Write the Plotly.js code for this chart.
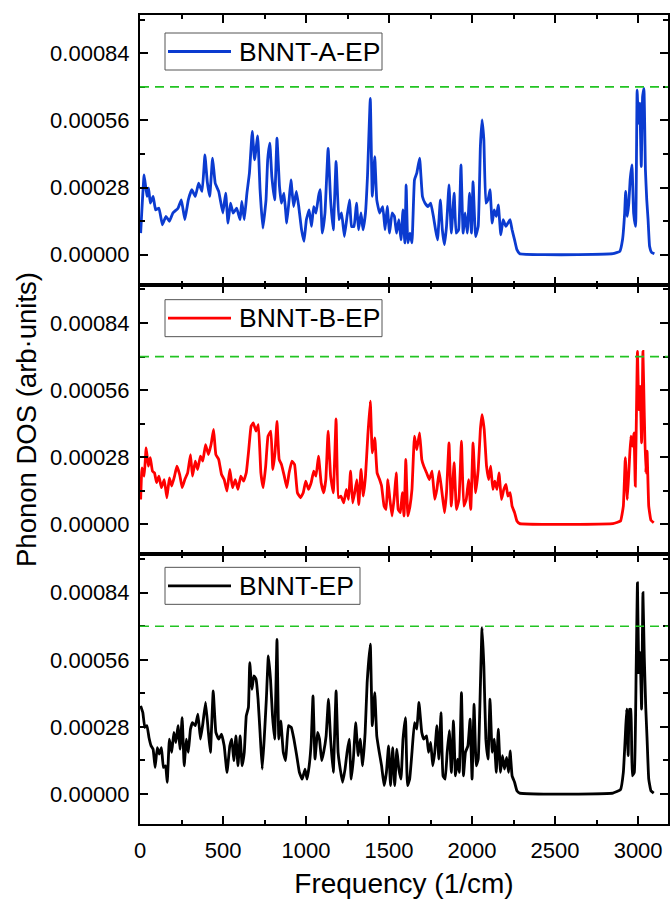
<!DOCTYPE html>
<html>
<head>
<meta charset="utf-8">
<script src="https://cdn.plot.ly/plotly-3.0.1.min.js"></script>
<style>
  html, body { margin: 0; padding: 0; background: #fff; }
  #chart { width: 671px; height: 900px; }
</style>
</head>
<body>
<div id="chart"></div>
<script>
// Phonon density of states of three BNNT/epoxy models (frequency in 1/cm)

const seriesNames = ['BNNT-A-EP', 'BNNT-B-EP', 'BNNT-EP'];
const seriesColors = ['#0b3bd0', '#ff0000', '#000000'];

const freqA = [4,25,42,52,62,79,94,114,135,156,
  177,198,229,249,270,291,312,333,353,374,
  391,405,420,437,453,474,499,516,530,545,
  561,582,603,613,628,644,659,676,690,709,
  723,740,759,769,782,794,811,825,840,852,
  867,884,898,909,925,942,956,973,988,1002,
  1019,1033,1046,1060,1075,1085,1098,1114,1133,1148,
  1164,1181,1198,1214,1231,1247,1262,1274,1289,1304,
  1316,1331,1343,1358,1370,1387,1399,1414,1426,1443,
  1462,1476,1489,1503,1518,1532,1545,1559,1572,1584,
  1595,1603,1613,1626,1638,1653,1667,1684,1701,1717,
  1734,1751,1767,1780,1792,1809,1821,1834,1846,1861,
  1875,1892,1904,1919,1933,1946,1958,1971,1985,1996,
  2006,2021,2037,2050,2060,2071,2083,2096,2108,2121,
  2133,2146,2158,2173,2187,2204,2216,2229,2241,2256,
  2270,2287,2432,2640,2848,2890,2906,2919,2925,2935,
  2944,2952,2963,2973,2985,2994,3002,3010,3019,3027,
  3035,3044,3052,3060,3069,3081,3098];

const dosA = [0.000090,0.000333,0.000243,0.000278,0.000215,0.000243,0.000187,0.000194,0.000125,0.000160,
  0.000139,0.000174,0.000194,0.000229,0.000146,0.000229,0.000271,0.000243,0.000298,0.000264,
  0.000416,0.000305,0.000243,0.000403,0.000298,0.000264,0.000174,0.000257,0.000132,0.000215,
  0.000174,0.000194,0.000146,0.000222,0.000146,0.000257,0.000340,0.000514,0.000396,0.000496,
  0.000271,0.000111,0.000229,0.000396,0.000465,0.000326,0.000229,0.000486,0.000285,0.000215,
  0.000257,0.000132,0.000229,0.000312,0.000201,0.000264,0.000201,0.000104,0.000056,0.000146,
  0.000187,0.000118,0.000201,0.000174,0.000243,0.000271,0.000090,0.000174,0.000444,0.000229,
  0.000104,0.000389,0.000146,0.000174,0.000076,0.000160,0.000229,0.000118,0.000118,0.000215,
  0.000104,0.000174,0.000104,0.000174,0.000326,0.000652,0.000243,0.000409,0.000229,0.000174,
  0.000201,0.000104,0.000201,0.000090,0.000174,0.000160,0.000090,0.000146,0.000062,0.000187,
  0.000049,0.000291,0.000049,0.000090,0.000049,0.000312,0.000340,0.000403,0.000243,0.000215,
  0.000201,0.000215,0.000160,0.000104,0.000062,0.000229,0.000104,0.000042,0.000118,0.000291,
  0.000090,0.000257,0.000090,0.000104,0.000375,0.000090,0.000174,0.000090,0.000257,0.000090,
  0.000305,0.000076,0.000118,0.000451,0.000562,0.000479,0.000215,0.000229,0.000271,0.000132,
  0.000187,0.000160,0.000208,0.000083,0.000146,0.000118,0.000132,0.000146,0.000104,0.000062,
  0.000021,0.000004,0.000000,0.000000,0.000004,0.000014,0.000062,0.000174,0.000264,0.000160,
  0.000215,0.000312,0.000375,0.000174,0.000118,0.000687,0.000548,0.000632,0.000368,0.000659,
  0.000694,0.000354,0.000229,0.000146,0.000035,0.000010,0.000004];

const freqB = [4,12,25,37,50,62,75,87,100,114,
  129,146,162,177,191,208,222,239,254,270,
  287,304,316,333,347,364,378,395,412,428,
  443,457,474,491,507,524,541,557,574,590,
  607,624,640,655,669,682,699,713,728,742,
  757,771,788,800,813,825,838,852,869,884,
  898,915,931,948,967,983,998,1015,1031,1046,
  1060,1075,1091,1106,1119,1133,1148,1164,1181,1195,
  1210,1227,1243,1256,1268,1281,1293,1306,1318,1331,
  1345,1358,1372,1387,1399,1414,1428,1443,1455,1470,
  1482,1493,1505,1518,1532,1543,1555,1568,1580,1590,
  1601,1613,1626,1638,1653,1667,1684,1697,1709,1726,
  1742,1759,1775,1788,1802,1819,1834,1846,1861,1875,
  1892,1906,1921,1936,1950,1965,1979,1992,2006,2021,
  2037,2050,2060,2073,2087,2100,2112,2125,2137,2150,
  2162,2177,2191,2204,2216,2229,2241,2256,2270,2287,
  2432,2640,2848,2894,2911,2923,2935,2946,2956,2965,
  2975,2983,2992,2996,3004,3012,3021,3029,3037,3046,
  3054,3064,3077,3094];

const dosB = [0.000104,0.000236,0.000201,0.000319,0.000243,0.000278,0.000222,0.000215,0.000174,0.000201,
  0.000153,0.000187,0.000111,0.000194,0.000160,0.000201,0.000243,0.000208,0.000153,0.000187,
  0.000215,0.000291,0.000201,0.000264,0.000229,0.000285,0.000264,0.000333,0.000291,0.000333,
  0.000396,0.000291,0.000271,0.000208,0.000187,0.000139,0.000229,0.000153,0.000187,0.000146,
  0.000201,0.000180,0.000215,0.000312,0.000409,0.000423,0.000389,0.000416,0.000215,0.000153,
  0.000243,0.000368,0.000389,0.000229,0.000298,0.000430,0.000271,0.000250,0.000201,0.000153,
  0.000215,0.000264,0.000250,0.000132,0.000111,0.000132,0.000180,0.000146,0.000174,0.000222,
  0.000201,0.000285,0.000174,0.000132,0.000187,0.000389,0.000201,0.000132,0.000440,0.000111,
  0.000118,0.000090,0.000146,0.000104,0.000222,0.000090,0.000132,0.000187,0.000083,0.000229,
  0.000118,0.000201,0.000368,0.000514,0.000298,0.000361,0.000215,0.000187,0.000160,0.000076,
  0.000062,0.000187,0.000104,0.000035,0.000118,0.000215,0.000062,0.000049,0.000132,0.000035,
  0.000271,0.000035,0.000076,0.000146,0.000368,0.000312,0.000382,0.000271,0.000243,0.000215,
  0.000187,0.000222,0.000104,0.000146,0.000222,0.000132,0.000049,0.000132,0.000340,0.000076,
  0.000257,0.000062,0.000104,0.000347,0.000076,0.000104,0.000187,0.000062,0.000340,0.000132,
  0.000229,0.000396,0.000458,0.000396,0.000243,0.000187,0.000243,0.000146,0.000180,0.000146,
  0.000215,0.000104,0.000146,0.000167,0.000118,0.000132,0.000076,0.000049,0.000014,0.000003,
  0.000000,0.000000,0.000003,0.000014,0.000076,0.000278,0.000104,0.000243,0.000368,0.000326,
  0.000382,0.000160,0.000562,0.000722,0.000479,0.000576,0.000340,0.000722,0.000465,0.000215,
  0.000305,0.000076,0.000018,0.000007];

const freqC = [4,17,29,42,54,67,79,91,104,116,
  129,141,154,164,177,191,204,216,229,241,
  254,266,279,291,304,316,333,349,364,378,
  395,412,424,441,457,474,491,507,524,541,
  553,565,578,590,603,615,628,640,653,661,
  674,686,699,711,723,736,748,761,773,786,
  798,811,825,836,848,863,877,894,911,927,
  944,960,977,994,1006,1019,1031,1042,1054,1069,
  1081,1094,1106,1121,1135,1148,1164,1181,1193,1206,
  1220,1235,1247,1260,1272,1285,1299,1314,1326,1341,
  1356,1368,1387,1399,1414,1426,1441,1455,1470,1484,
  1497,1509,1522,1534,1547,1559,1572,1584,1599,1611,
  1624,1638,1653,1667,1680,1697,1709,1726,1738,1751,
  1763,1775,1788,1800,1813,1825,1838,1850,1863,1875,
  1888,1900,1913,1923,1936,1948,1960,1975,1988,2000,
  2012,2025,2037,2050,2060,2071,2083,2096,2108,2121,
  2133,2146,2158,2171,2183,2195,2208,2220,2229,2241,
  2256,2270,2287,2432,2640,2848,2894,2911,2923,2931,
  2940,2948,2956,2965,2977,2988,2996,3004,3012,3021,
  3029,3037,3046,3054,3064,3077,3094];

const dosC = [0.000368,0.000340,0.000278,0.000285,0.000236,0.000201,0.000187,0.000111,0.000194,0.000167,
  0.000194,0.000111,0.000118,0.000049,0.000229,0.000174,0.000257,0.000215,0.000285,0.000187,
  0.000319,0.000118,0.000229,0.000174,0.000271,0.000298,0.000285,0.000333,0.000229,0.000291,
  0.000382,0.000257,0.000174,0.000430,0.000257,0.000229,0.000250,0.000201,0.000090,0.000201,
  0.000229,0.000139,0.000243,0.000118,0.000243,0.000118,0.000174,0.000326,0.000361,0.000548,
  0.000437,0.000493,0.000479,0.000396,0.000257,0.000104,0.000229,0.000396,0.000576,0.000479,
  0.000326,0.000229,0.000645,0.000229,0.000305,0.000174,0.000139,0.000285,0.000278,0.000229,
  0.000160,0.000090,0.000062,0.000104,0.000062,0.000118,0.000215,0.000409,0.000146,0.000257,
  0.000229,0.000139,0.000174,0.000243,0.000396,0.000229,0.000090,0.000430,0.000174,0.000104,
  0.000049,0.000104,0.000174,0.000229,0.000062,0.000146,0.000298,0.000160,0.000229,0.000118,
  0.000257,0.000465,0.000625,0.000285,0.000423,0.000243,0.000174,0.000118,0.000035,0.000090,
  0.000201,0.000035,0.000194,0.000035,0.000187,0.000104,0.000062,0.000229,0.000319,0.000035,
  0.000062,0.000174,0.000298,0.000271,0.000382,0.000257,0.000229,0.000243,0.000174,0.000215,
  0.000118,0.000174,0.000285,0.000146,0.000340,0.000076,0.000062,0.000174,0.000264,0.000090,
  0.000305,0.000076,0.000146,0.000090,0.000423,0.000076,0.000174,0.000201,0.000312,0.000062,
  0.000375,0.000118,0.000146,0.000451,0.000694,0.000534,0.000229,0.000146,0.000396,0.000174,
  0.000229,0.000090,0.000271,0.000090,0.000160,0.000104,0.000153,0.000090,0.000180,0.000076,
  0.000049,0.000014,0.000004,0.000000,0.000000,0.000004,0.000018,0.000090,0.000243,0.000354,
  0.000160,0.000354,0.000354,0.000076,0.000090,0.000507,0.000881,0.000507,0.000590,0.000354,
  0.000840,0.000576,0.000361,0.000229,0.000062,0.000014,0.000004];

// horizontal reference level drawn as a dashed guide in every panel
const guideLevel = 0.0007;

const freqs = [freqA, freqB, freqC];
const doses = [dosA, dosB, dosC];

const FONT = 'Liberation Sans, Arial, Helvetica, sans-serif';
const axisIds = ['', '2', '3'];

const traces = seriesNames.map((name, i) => ({
  type: 'scatter',
  mode: 'lines',
  name: name,
  x: freqs[i],
  y: doses[i],
  xaxis: 'x' + axisIds[i],
  yaxis: 'y' + axisIds[i],
  showlegend: false,
  line: { color: seriesColors[i], width: 2.8, shape: 'spline', smoothing: 0.3 },
  hoverinfo: 'x+y'
}));

const xBase = {
  range: [0, 3180],
  tick0: 0, dtick: 500,
  ticks: 'inside', ticklen: 8, tickwidth: 2, tickcolor: '#000',
  minor: { dtick: 250, ticks: 'inside', ticklen: 4, tickwidth: 2, tickcolor: '#000', showgrid: false },
  showline: true, linewidth: 2, linecolor: '#000', mirror: 'ticks',
  showgrid: false, zeroline: false,
  tickfont: { family: FONT, size: 22, color: '#000' },
  ticklabelstandoff: 6
};

const yBase = {
  range: [-0.000125, 0.001],
  tick0: 0, dtick: 0.00028, tickformat: '.5f',
  ticks: 'inside', ticklen: 8, tickwidth: 2, tickcolor: '#000',
  minor: { tick0: 0, dtick: 0.00014, ticks: 'inside', ticklen: 5, tickwidth: 2, tickcolor: '#000', showgrid: false },
  showline: true, linewidth: 2, linecolor: '#000', mirror: 'ticks',
  showgrid: false, zeroline: false,
  tickfont: { family: FONT, size: 22, color: '#000' },
  ticklabelstandoff: 4
};

const panelDomains = [[2 / 3, 1], [1 / 3, 2 / 3], [0, 1 / 3]];

// in-panel legend boxes (pixel offsets from each panel's top-left corner)
const legendTop = [18, 15, 13];
const legendWidth = [217, 217, 195];
const legendHeight = 37;

const shapes = [];
const annotations = [];
axisIds.forEach((id, i) => {
  const xr = 'x' + id + ' domain';
  const yr = 'y' + id + ' domain';
  shapes.push({
    type: 'line', xref: xr, yref: 'y' + id,
    x0: 0, x1: 1, y0: guideLevel, y1: guideLevel,
    line: { color: '#22c322', width: 1.6, dash: '9px,6px' }
  });
  shapes.push({
    type: 'rect', xref: xr, yref: yr,
    xsizemode: 'pixel', ysizemode: 'pixel', xanchor: 0, yanchor: 1,
    x0: 25, x1: 25 + legendWidth[i],
    y0: -legendTop[i], y1: -legendTop[i] - legendHeight,
    fillcolor: '#ffffff', line: { color: '#555555', width: 1 }
  });
  const midY = -legendTop[i] - legendHeight / 2;
  shapes.push({
    type: 'line', xref: xr, yref: yr,
    xsizemode: 'pixel', ysizemode: 'pixel', xanchor: 0, yanchor: 1,
    x0: 28, x1: 91, y0: midY, y1: midY,
    line: { color: seriesColors[i], width: 2.8 }
  });
  annotations.push({
    text: seriesNames[i], showarrow: false,
    xref: xr, yref: yr, x: 0, y: 1,
    xanchor: 'left', yanchor: 'middle',
    xshift: 97, yshift: midY,
    font: { family: FONT, size: 26.5, color: '#000' }
  });
});

const layout = {
  width: 671, height: 900,
  margin: { l: 140, r: 3, t: 15, b: 76 },
  paper_bgcolor: '#ffffff', plot_bgcolor: '#ffffff',
  font: { family: FONT, color: '#000' },
  showlegend: false,
  xaxis: Object.assign({}, xBase, { anchor: 'y', showticklabels: false }),
  xaxis2: Object.assign({}, xBase, { anchor: 'y2', matches: 'x', showticklabels: false }),
  xaxis3: Object.assign({}, xBase, {
    anchor: 'y3', matches: 'x',
    title: { text: 'Frequency (1/cm)', font: { family: FONT, size: 28, color: '#000' }, standoff: 11 }
  }),
  yaxis: Object.assign({}, yBase, { domain: panelDomains[0], anchor: 'x' }),
  yaxis2: Object.assign({}, yBase, {
    domain: panelDomains[1], anchor: 'x2',
    title: { text: 'Phonon DOS (arb·units)', font: { family: FONT, size: 27.5, color: '#000' }, standoff: 5 }
  }),
  yaxis3: Object.assign({}, yBase, { domain: panelDomains[2], anchor: 'x3' }),
  shapes: shapes,
  annotations: annotations
};

Plotly.newPlot('chart', traces, layout, { displayModeBar: false, staticPlot: true });
</script>
</body>
</html>
